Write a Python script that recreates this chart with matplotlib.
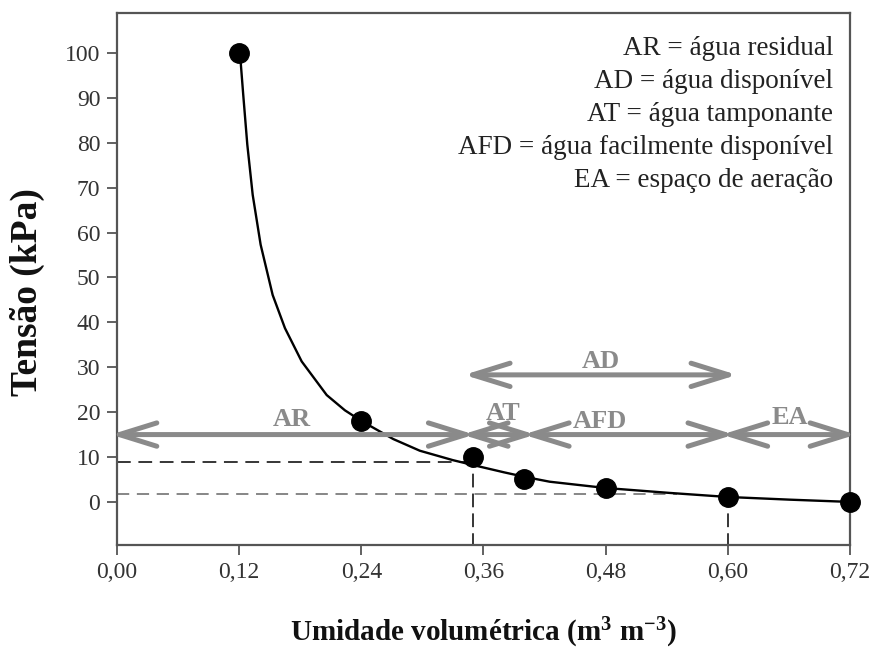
import matplotlib
matplotlib.use("Agg")
import matplotlib.pyplot as plt
from matplotlib.ticker import FuncFormatter

# measured points
theta_pts = [0.12, 0.24, 0.35, 0.40, 0.48, 0.60, 0.72]
psi_pts = [100, 18, 10, 5, 3, 1, 0]

# fitted curve
curve_theta = [0.1208, 0.1240, 0.1280, 0.1333, 0.1411, 0.1529, 0.1650,
               0.1814, 0.2060, 0.2239, 0.2403, 0.2714, 0.2975, 0.330,
               0.350, 0.380, 0.400, 0.425, 0.480, 0.543, 0.600, 0.661, 0.720]
curve_psi = [100, 90.7, 79.6, 68.4, 57.3, 46.1, 38.7,
             31.3, 23.8, 20.4, 18.0, 14.0, 11.4, 9.3,
             8.2, 6.6, 5.6, 4.5, 3.1, 2.0, 1.1, 0.5, 0.0]

# water classes (start, end, label, label position)
classes = ["AR", "AT", "AFD", "EA"]
class_start = [0.0, 0.345, 0.405, 0.60]
class_end = [0.345, 0.405, 0.60, 0.72]
class_label_x = [0.172, 0.379, 0.474, 0.661]
class_label_y = [18.3, 19.8, 18.0, 18.7]
arrow_y = 15
ad_start, ad_end, ad_y = 0.347, 0.603, 28.3

legend_lines = ["AR = água residual", "AD = água disponível",
                "AT = água tamponante", "AFD = água facilmente disponível",
                "EA = espaço de aeração"]

plt.rcParams['font.family'] = ['Liberation Serif', 'DejaVu Serif']
plt.rcParams['mathtext.fontset'] = 'custom'
plt.rcParams['mathtext.rm'] = 'Liberation Serif'
plt.rcParams['mathtext.bf'] = 'Liberation Serif:bold'
plt.rcParams['mathtext.default'] = 'bf'

fig = plt.figure(figsize=(8.77, 6.52), dpi=100)
ax = fig.add_axes([0.1334, 0.1641, 0.9692 - 0.1334, 0.9793 - 0.1641])

gray = "#8a8a8a"
tip_pad = 0.006  # the arrow tips sit back by the line width

# reference dashed lines
ax.plot([0, 0.35], [8.85, 8.85], color="black", lw=1.1, ls=(0, (9, 5)), zorder=2)
ax.plot([0.35, 0.35], [-10, 8.85], color="black", lw=1.1, ls=(0, (9, 4)), zorder=2)
ax.plot([0, 0.55], [1.7, 1.7], color="#666666", lw=1.1, ls=(0, (8, 5)), zorder=2)
ax.plot([0.60, 0.60], [-10, 1.0], color="black", lw=1.1, ls=(0, (9, 4)), zorder=2)

ax.plot(curve_theta, curve_psi, color="black", lw=1.7, zorder=3,
        solid_joinstyle="round")

arrow_props = dict(arrowstyle="<->,head_length=1.35,head_width=0.42",
                   color=gray, lw=3.6, shrinkA=0, shrinkB=0,
                   mutation_scale=20)
for s, e in zip(class_start, class_end):
    ax.annotate("", xy=(e + tip_pad, arrow_y), xytext=(s - tip_pad, arrow_y),
                arrowprops=arrow_props, zorder=4, annotation_clip=False)
ax.annotate("", xy=(ad_end + tip_pad, ad_y), xytext=(ad_start - tip_pad, ad_y),
            arrowprops=arrow_props, zorder=4, annotation_clip=False)

for lab, lx, ly in zip(classes, class_label_x, class_label_y):
    ax.text(lx, ly, lab, color=gray, fontsize=19, fontweight="bold",
            ha="center", va="center", zorder=5)
ax.text((ad_start + ad_end) / 2, 31.2, "AD", color=gray, fontsize=19,
        fontweight="bold", ha="center", va="center", zorder=5)

ax.plot(theta_pts, psi_pts, "o", color="black", ms=14, zorder=6,
        clip_on=False)

ax.text(0.977, 0.958, "\n".join(legend_lines), transform=ax.transAxes,
        ha="right", va="top", fontsize=19.5, color="#222222",
        linespacing=1.43, multialignment="right")

ax.set_xlim(0, 0.72)
ax.set_ylim(-9.6, 108.8)
ax.set_xticks([0, 0.12, 0.24, 0.36, 0.48, 0.60, 0.72])
ax.set_yticks(range(0, 101, 10))
ax.xaxis.set_major_formatter(FuncFormatter(lambda v, p: f"{v:.2f}".replace(".", ",")))

for sp in ax.spines.values():
    sp.set_color("#555555")
    sp.set_linewidth(1.6)
ax.tick_params(direction="out", length=7, width=1.3, color="#555555",
               labelsize=17, labelcolor="#333333", pad=5)

ax.set_xlabel("Umidade volumétrica (m$^{3}$ m$^{-3}$)", fontsize=21,
              fontweight="bold", color="#111111")
ax.set_ylabel("Tensão (kPa)", fontsize=27, fontweight="bold",
              color="#111111")
ax.xaxis.set_label_coords(0.5, -0.133)
ax.yaxis.set_label_coords(-0.098, 0.476)

fig.savefig("out.png", dpi=100)
